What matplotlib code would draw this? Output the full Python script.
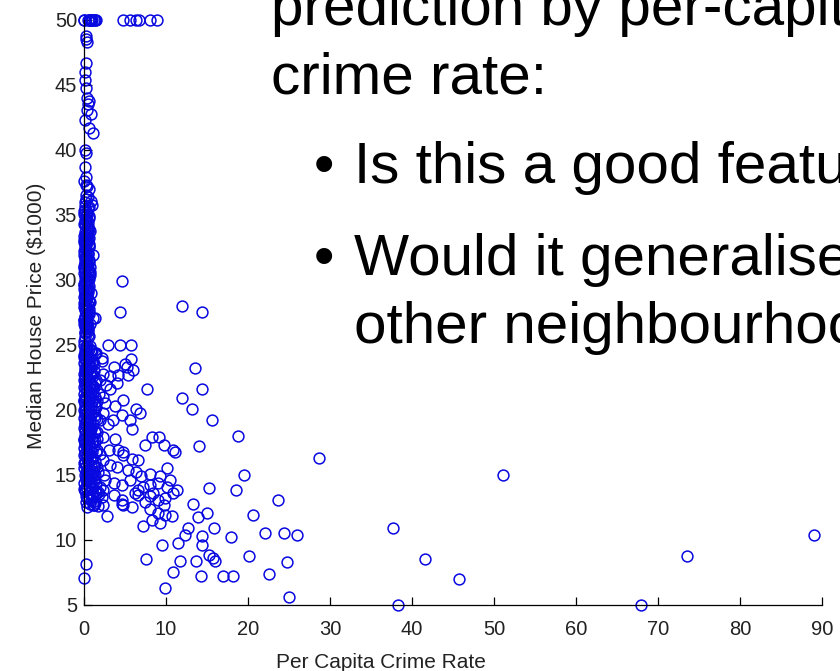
import matplotlib
matplotlib.use("Agg")
import matplotlib.pyplot as plt

plt.rcParams["font.family"] = ["Liberation Sans", "DejaVu Sans"]

BLUE = "#0808e0"

# Boston housing: per-capita crime rate vs median house price ($1000)
# capped values at 50
top_x = [0.02, 0.06, 0.5, 0.6, 0.7, 0.8, 0.9, 1.0, 1.2, 1.35, 1.45,
         4.8, 5.6, 6.4, 6.7, 8.0, 8.9]
top_y = [50, 50, 50, 50, 50, 50, 50, 50, 50, 50, 50,
         50, 50, 50, 50, 50, 50]

# low-crime column, upper part (y > 25)
col_hi_x = [0.2, 0.3, 0.35, 0.2, 0.1, 0.15, 0.3, 0.4, 0.6, 0.5, 0.35, 0.8, 0.1, 0.6,
            1.1, 0.15, 0.2, 0.1, 0.2, 0.05, 0.3, 0.4, 0.6, 0.2, 0.5, 0.3, 0.8, 0.1,
            0.95, 0.10, 0.40, 0.05, 0.60, 0.20, 0.30, 0.08, 0.50, 0.15, 0.35, 0.70,
            0.04, 0.25, 0.55, 0.12, 0.42, 0.06, 0.30, 0.65, 0.18, 0.02, 0.48, 1.10,
            0.22, 0.08, 0.58, 0.35, 0.03, 0.75, 0.15, 0.45, 0.05, 0.28, 0.62, 0.10,
            0.40, 0.02, 0.52, 0.20, 0.80, 0.06, 0.35, 0.14, 0.60, 0.03, 0.45, 0.25,
            0.08, 0.55, 0.18, 0.40, 0.05, 0.70, 0.22, 0.10, 0.50, 1.10, 0.30, 0.25,
            0.02, 0.45, 0.20, 0.38, 0.12, 0.55, 0.30, 0.05, 0.42, 0.70, 0.12, 0.35,
            0.02, 0.30, 0.08, 0.15, 0.05, 0.65, 0.48, 0.22, 0.58, 0.10, 0.33, 0.52,
            0.68, 0.27, 0.44, 0.16, 0.62, 0.38, 0.07, 0.49,
            0.12, 0.45, 0.02, 0.33, 0.58, 0.2, 0.07, 0.4, 0.66, 0.15, 0.28, 0.5,
            0.04, 0.36, 0.6, 0.1, 0.24, 0.47, 0.03, 0.31, 0.55, 0.18, 0.42, 0.06,
            0.68, 0.26, 0.13, 0.51, 0.38, 0.01, 0.57, 0.21, 0.44, 0.09, 0.32, 0.63,
            0.17, 0.49, 0.05, 0.27, 0.59, 0.14, 0.4, 0.02, 0.35, 0.53, 0.23, 0.1,
            0.46, 0.67]
col_hi_y = [48.8, 48.5, 48.3, 46.7, 46.0, 45.4, 44.8, 44.0, 43.8, 43.5, 43.1, 42.8, 42.3, 41.7,
            41.3, 40.0, 39.8, 38.7, 37.9, 37.6, 37.3, 37.2, 37.0, 36.5, 36.4, 36.2, 36.1, 36.0,
            35.8, 35.4, 35.2, 35.1, 34.9, 34.9, 34.7, 34.6, 34.4, 34.2, 34.0, 33.8,
            33.4, 33.3, 33.2, 33.1, 33.0, 32.9, 32.7, 32.5, 32.4, 32.2, 32.0, 31.9,
            31.7, 31.6, 31.5, 31.2, 31.1, 31.0, 30.8, 30.7, 30.5, 30.3, 30.1, 29.9,
            29.8, 29.6, 29.4, 29.1, 29.0, 28.7, 28.6, 28.5, 28.4, 28.2, 28.1, 28.0,
            27.9, 27.5, 27.1, 26.7, 26.6, 26.6, 26.5, 26.4, 26.2, 27.1, 27.7, 35.0,
            34.3, 33.6, 32.8, 32.1, 31.4, 30.6, 30.0, 29.3, 28.8, 28.3, 27.7, 27.3,
            26.9, 26.3, 25.9, 25.6, 25.3, 35.6, 34.1, 33.5, 32.6, 31.8, 31.3, 30.9,
            30.4, 29.7, 29.2, 28.9, 27.8, 27.4, 26.8, 26.1,
            35.7, 35.5, 35.3, 35.0, 34.8, 34.5, 34.3, 34.1, 33.9, 33.7, 33.5, 33.4,
            33.1, 33.0, 32.8, 32.6, 32.3, 32.1, 31.9, 31.7, 31.4, 31.2, 31.1, 30.9,
            30.6, 30.4, 30.2, 30.1, 29.9, 29.7, 29.5, 29.2, 29.1, 28.9, 28.7, 28.4,
            28.2, 28.1, 27.9, 27.6, 27.4, 27.2, 27.0, 26.9, 26.7, 26.4, 26.2, 26.0,
            25.8, 25.7]

# low-crime column, lower part (y <= 25)
col_lo_x = [0.03, 0.4, 0.2, 0.6, 0.1, 0.9, 0.35, 1.35, 0.05, 0.5, 0.75, 0.15, 1.1, 0.3,
            0.02, 0.6, 0.2, 0.9, 0.08, 0.45, 1.2, 0.3, 0.04, 0.7, 0.15, 1.0, 0.5, 0.06,
            0.25, 1.4, 0.8, 0.1, 0.4, 0.02, 0.6, 1.1, 0.2, 0.35, 0.9, 0.05, 0.55, 1.3,
            0.15, 0.7, 0.3, 0.03, 1.0, 0.45, 0.12, 0.8, 1.5, 0.25, 0.05, 0.6, 1.2, 0.35,
            0.1, 0.9, 0.5, 0.02, 1.4, 0.2, 0.7, 0.4, 0.08, 1.1, 0.3, 0.6, 0.04, 0.85,
            0.15, 1.3, 0.5, 0.1, 0.7, 0.25, 1.6, 0.02, 0.45, 1.0, 0.12, 0.6, 0.3, 1.2,
            0.05, 0.8, 0.4, 1.5, 0.15, 0.6, 0.03, 1.0, 0.35, 0.7, 1.3, 0.1, 0.5, 0.9,
            0.2, 1.6, 0.05, 0.7, 1.1, 0.3, 0.5, 1.4, 0.1, 0.8, 0.2, 1.2, 0.45, 0.9,
            0.05, 1.5, 0.6, 0.25, 1.0, 0.4, 1.3, 0.1, 0.7, 1.8, 0.3, 1.1, 0.55, 0.9,
            1.4, 0.2, 0.7, 1.2, 1.7, 0.4,
            0.7, 0.08, 0.45, 0.55, 0.85, 0.18, 0.95, 0.65, 0.08, 0.55, 0.15, 0.65,
            0.45, 0.7, 0.95, 0.08, 0.65, 0.22, 0.03, 0.35, 0.55, 0.75, 0.15, 0.95,
            1.25, 1.3, 1.35, 1.2, 1.0, 1.5,
            0.25, 0.85, 1.5, 0.05, 0.65, 1.25, 0.4, 1.0, 0.15, 1.45, 0.75, 0.3,
            1.15, 0.55, 0.02, 1.35, 0.9, 0.2, 0.6, 1.55, 0.1, 0.8, 1.3, 0.45,
            0.03, 1.05, 0.7, 1.6, 0.35, 0.95, 0.12, 1.4, 0.5, 0.85, 0.22, 1.2,
            0.65, 0.04, 1.5, 0.4, 0.95, 0.18, 1.3, 0.6, 1.0, 0.3, 1.65, 0.08,
            0.75, 1.15]
col_lo_y = [25.0, 25.0, 24.8, 24.7, 24.6, 24.5, 24.4, 24.3, 24.2, 24.1, 24.0, 23.9, 23.8, 23.7,
            23.6, 23.5, 23.4, 23.3, 23.2, 23.1, 23.0, 22.9, 22.8, 22.7, 22.6, 22.5, 22.4, 22.3,
            22.2, 22.1, 22.0, 22.0, 21.9, 21.8, 21.7, 21.6, 21.5, 21.4, 21.3, 21.2, 21.1, 21.0,
            21.0, 20.9, 20.8, 20.7, 20.6, 20.5, 20.4, 20.3, 20.2, 20.1, 20.0, 20.0, 19.9, 19.8,
            19.7, 19.6, 19.5, 19.4, 19.4, 19.3, 19.2, 19.1, 19.0, 18.9, 18.8, 18.7, 18.6, 18.5,
            18.4, 18.3, 18.2, 18.1, 18.0, 17.9, 17.8, 17.8, 17.7, 17.6, 17.5, 17.4, 17.3, 17.2,
            17.1, 17.0, 16.9, 16.8, 16.7, 16.6, 16.5, 16.4, 16.3, 16.2, 16.1, 16.0, 15.9, 15.8,
            15.7, 15.6, 15.5, 15.4, 15.3, 15.2, 15.1, 15.0, 15.0, 14.9, 14.8, 14.7, 14.6, 14.5,
            14.4, 14.3, 14.2, 14.1, 14.0, 13.9, 13.8, 13.8, 13.6, 13.5, 13.4, 13.3, 13.2, 13.1,
            13.0, 12.9, 12.8, 12.7, 12.6, 12.5,
            24.9, 24.4, 23.9, 23.4, 22.9, 22.4, 21.9, 21.4, 20.9, 20.4, 19.9, 19.4,
            18.9, 18.4, 17.9, 17.4, 16.9, 16.4, 15.9, 15.4, 14.9, 14.4, 13.9, 13.4,
            21.8, 19.6, 17.6, 15.6, 23.6, 13.6,
            24.9, 24.6, 24.4, 24.1, 23.8, 23.5, 23.2, 22.8, 22.5, 22.3, 21.9, 21.7,
            21.3, 21.1, 20.8, 20.4, 20.1, 19.8, 19.5, 19.3, 18.9, 18.6, 18.3, 18.0,
            17.7, 17.5, 17.2, 16.9, 16.5, 16.2, 15.9, 15.7, 15.3, 15.1, 14.8, 14.5,
            14.2, 13.9, 13.6, 13.2, 24.5, 22.6, 20.6, 18.5, 16.8, 14.6, 13.7, 23.1,
            19.1, 15.2]

# moderate crime (roughly 1 to 21)
mid_x = [4.6, 4.39, 11.9, 14.4, 1.34, 2.97, 4.39, 5.69, 5.7, 13.5, 3.6, 5.2, 6.0, 2.15,
         2.3, 4.1, 5.4, 7.7, 14.4, 12.0, 13.2, 15.6, 18.8, 14.0, 2.35, 2.3, 3.55, 4.6,
         5.6, 6.4, 6.8, 5.8, 2.35, 3.8, 7.4, 8.25, 9.2, 9.7, 10.9, 3.2, 4.0, 1.95,
         3.2, 4.8, 3.8, 1.9, 5.0, 2.15, 1.35,
         19.55, 15.2, 18.5, 13.3, 11.1, 6.6, 4.2, 4.8, 4.8, 5.8, 4.0, 3.2, 2.35, 10.1,
         9.3, 8.05, 7.0, 6.4, 5.4, 5.6, 4.6, 3.6, 2.55, 2.35, 3.6, 4.6, 6.6, 6.6,
         7.25, 8.05, 8.45, 9.05, 10.1, 10.5, 10.9, 11.3, 9.9, 9.05, 8.05, 7.4, 6.2, 4.8,
         2.35, 1.35,
         1.1, 2.75, 4.6, 5.8, 8.05, 7.25, 8.25, 9.3, 9.9, 10.7, 9.05, 9.7, 13.95, 15.0,
         12.7, 12.3, 11.5, 14.4, 14.4, 15.9, 17.9, 20.6, 22.05, 9.5, 7.55, 11.7, 13.6, 15.2,
         16.0, 15.7, 20.08, 10.9, 14.3, 16.9, 18.2, 9.9, 0.2, 0.01,
         1.8, 2.6, 1.6, 2.0, 2.9, 1.7, 2.4, 3.0, 1.9, 2.2, 1.55, 2.7]
mid_y = [29.9, 27.5, 28.0, 27.5, 27.1, 25.0, 25.0, 25.0, 23.9, 23.2, 23.3, 23.3, 23.1, 24.0,
         22.8, 22.7, 22.7, 21.6, 21.6, 20.9, 20.1, 19.2, 18.0, 17.25, 21.0, 19.8, 19.2, 19.6,
         19.2, 20.1, 19.8, 18.5, 17.9, 17.8, 17.3, 17.95, 17.9, 17.3, 16.9, 22.6, 22.1, 22.3,
         21.6, 20.8, 20.3, 19.2, 23.5, 23.8, 24.4,
         15.0, 14.0, 13.85, 12.8, 16.8, 16.15, 16.9, 16.8, 16.5, 16.2, 15.6, 15.8, 16.15, 15.5,
         14.9, 15.1, 14.9, 15.25, 15.4, 14.6, 14.2, 14.4, 14.6, 13.85, 13.45, 13.1, 13.85, 13.45,
         14.1, 14.2, 13.6, 14.4, 14.1, 14.6, 13.6, 13.85, 13.2, 13.1, 13.35, 12.95, 13.6, 12.7,
         12.7, 12.85,
         12.7, 11.85, 12.8, 12.5, 12.4, 11.1, 11.5, 11.3, 11.9, 11.85, 12.05, 12.7, 11.75, 12.1,
         10.9, 10.4, 9.75, 10.3, 9.6, 10.9, 10.25, 11.9, 10.5, 9.6, 8.5, 8.4, 8.4, 8.85,
         8.4, 8.6, 8.8, 7.5, 7.2, 7.2, 7.2, 6.3, 8.15, 7.1,
         21.2, 20.5, 18.3, 16.6, 18.9, 15.2, 15.0, 16.9, 14.1, 13.3, 20.7, 21.9]

# high crime
high_x = [22.6, 23.65, 24.39, 24.8, 25.05, 25.94, 28.66, 37.66, 38.35, 41.53,
          45.75, 51.14, 67.92, 73.53, 88.98]
high_y = [7.4, 13.1, 10.5, 8.3, 5.6, 10.4, 16.3, 10.9, 5.0, 8.5,
          7.0, 15.0, 5.0, 8.8, 10.4]

x_ticks = [0, 10, 20, 30, 40, 50, 60, 70, 80, 90]
y_ticks = [5, 10, 15, 20, 25, 30, 35, 40, 45, 50]

fig = plt.figure(figsize=(8.4, 6.71), dpi=100)
ax = fig.add_axes([0.1, 0.0984, 0.8786, 0.8718])

for xs, ys in [(top_x, top_y), (col_hi_x, col_hi_y), (col_lo_x, col_lo_y),
               (mid_x, mid_y), (high_x, high_y)]:
    ax.plot(xs, ys, "o", mfc="none", mec=BLUE, ms=7.8, mew=1.1, clip_on=False)

ax.set_xlim(0, 90)
ax.set_ylim(5, 50)
ax.set_xticks(x_ticks)
ax.set_yticks(y_ticks)
for s in ["top", "right"]:
    ax.spines[s].set_visible(False)
for s in ["left", "bottom"]:
    ax.spines[s].set_linewidth(0.9)
ax.tick_params(direction="in", length=6, width=0.9, labelsize=14.5,
               labelcolor="#222222")
ax.tick_params(axis="x", pad=11)
ax.tick_params(axis="y", pad=5)

fig.text(0.4536, 0.0045, "Per Capita Crime Rate", fontsize=15, color="#222222",
         ha="center", va="baseline")
fig.text(0.05, 0.529, "Median House Price ($1000)", fontsize=15, color="#222222",
         rotation=90, rotation_mode="anchor", ha="center", va="baseline")

# slide text over the figure
kw = dict(fontsize=42, color="black", va="baseline")
fig.text(0.3226, 1 - 25 / 671, "prediction by per-capita", **kw)
fig.text(0.3226, 1 - 93 / 671, "crime rate:", **kw)
fig.text(0.3738, 1 - 183 / 671, "\u2022", **kw)
fig.text(0.4214, 1 - 183 / 671, "Is this a good feature?", **kw)
fig.text(0.3738, 1 - 275 / 671, "\u2022", **kw)
fig.text(0.4214, 1 - 275 / 671, "Would it generalise to", **kw)
fig.text(0.4214, 1 - 343 / 671, "other neighbourhoods?", **kw)

fig.savefig("out.png", dpi=100)
